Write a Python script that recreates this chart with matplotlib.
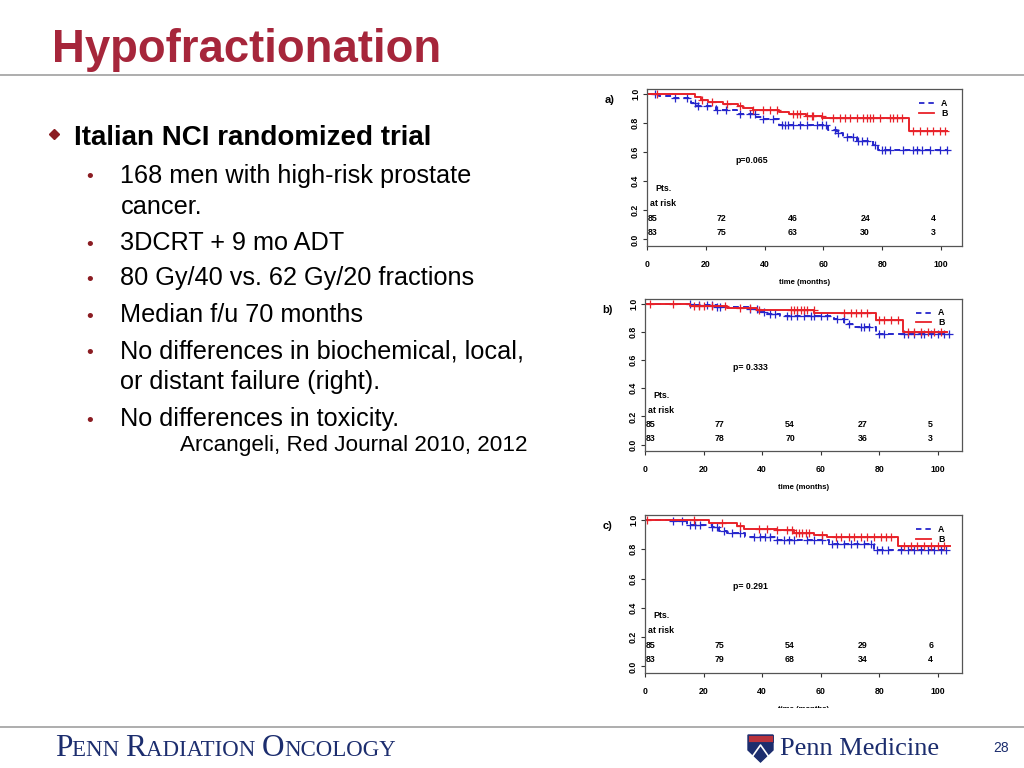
import numpy as np
import matplotlib

matplotlib.use("Agg")
import matplotlib.pyplot as plt
from matplotlib.patches import Polygon, Rectangle
from matplotlib.transforms import Bbox
from matplotlib.offsetbox import TextArea, HPacker, AnnotationBbox

# ---- panel a) ----
a_A_times = [0, 4, 9, 15, 17, 23.5, 30.5, 37, 39, 45, 61.5, 64.5, 66.5, 71.5, 77, 78.5]
a_A_surv = [1.0, 0.988, 0.97, 0.935, 0.92, 0.89, 0.86, 0.84, 0.825, 0.785, 0.755, 0.73, 0.705, 0.675, 0.65, 0.612]
a_A_end = 102.5
a_A_cens = [2.7, 9.5, 13.5, 16.3, 17.5, 20.3, 23.7, 27, 31.6, 35, 36.7, 39.6, 43, 45.8, 46.9, 48, 49.8,
            52, 54.3, 57.7, 59.4, 61, 64, 65, 68, 70.2, 71.9, 73, 74.7, 77.5, 79.8, 81, 82.7,
            87.2, 90.6, 91.7, 93.4, 96.3, 99.7, 102]
a_B_times = [0, 16.2, 18.4, 20.6, 25.7, 30.8, 32.5, 35.9, 44.9, 48.3, 54, 59.6, 89]
a_B_surv = [1.0, 0.977, 0.96, 0.945, 0.93, 0.918, 0.9, 0.888, 0.874, 0.862, 0.85, 0.834, 0.745]
a_B_end = 102
a_B_cens = [3.3, 18.6, 22, 27.1, 31.6, 36.2, 39.6, 41.8, 44.1, 49.8, 50.9, 52, 54.3, 56, 56.6, 59.4,
            63.4, 65.6, 67.3, 69, 71.3, 73.6, 74.7, 75.8, 77, 79.3, 82.6, 83.8, 84.9, 86.6,
            90.6, 92.9, 95.1, 97.4, 99.7, 101.4]
a_risk_A = [85, 72, 46, 24, 4]
a_risk_B = [83, 75, 63, 30, 3]
a_p = "p=0.065"

# ---- panel b) ----
b_A_times = [0, 15.5, 24.5, 36, 38.5, 41, 46, 64.5, 68, 71.4, 78.8]
b_A_surv = [1.0, 0.99, 0.975, 0.96, 0.945, 0.93, 0.91, 0.89, 0.86, 0.835, 0.785]
b_A_end = 104
b_A_cens = [15.4, 18.3, 21.1, 22.8, 24.5, 25.7, 36, 38.2, 40.5, 42.8, 44.5, 48.5, 49.7, 51.9, 54.2,
            56.5, 57.6, 60, 62.2, 65.6, 67.9, 69.6, 73.6, 74.8, 76.5, 79.9, 81.6, 88.5, 89.6,
            91.9, 94.2, 95.3, 97.6, 99.9, 102.2, 103.9]
b_B_times = [0, 15.4, 27.9, 38.2, 57.7, 78.8, 87.9]
b_B_surv = [1.0, 0.983, 0.967, 0.953, 0.936, 0.884, 0.80]
b_B_end = 103
b_B_cens = [1.7, 9.7, 16.6, 18.3, 20, 22.8, 27.4, 32.5, 36, 38.8, 49.7, 50.8, 52, 53.1, 54.2, 55.4,
            57.6, 67.9, 70.2, 71.9, 73.6, 75.9, 79.9, 81.6, 83.9, 86.2, 89.6, 91.9, 94.2, 96.5,
            98.7, 101]
b_risk_A = [85, 77, 54, 27, 5]
b_risk_B = [83, 78, 70, 36, 3]
b_p = "p= 0.333"

# ---- panel c) ----
c_A_times = [0, 9.1, 14.3, 22.8, 25.1, 28, 34.2, 45.1, 62.8, 78.2]
c_A_surv = [1.0, 0.99, 0.968, 0.95, 0.928, 0.91, 0.882, 0.86, 0.836, 0.795]
c_A_end = 103
c_A_cens = [9.7, 12.6, 15.4, 17.1, 18.8, 22.8, 24.5, 26.8, 29.7, 32.5, 37.1, 39.4, 41.1, 42.8, 45.1,
            47.4, 49.1, 50.8, 55.4, 57.6, 60.5, 63.9, 65.6, 67.9, 70.2, 72.5, 74.8, 77, 79.3,
            81, 82.8, 87.3, 89.6, 91.9, 94.2, 96.5, 98.7, 101, 102.7]
c_B_times = [0, 21.7, 31.4, 33.7, 45.1, 50.8, 57.7, 62.2, 86.2]
c_B_surv = [1.0, 0.98, 0.957, 0.94, 0.929, 0.912, 0.896, 0.885, 0.824]
c_B_end = 104
c_B_cens = [0.6, 16.6, 26.3, 32.5, 38.8, 41.7, 45.1, 48.5, 50.2, 51.4, 52.5, 53.7, 54.8, 56, 60.5,
            65.1, 66.8, 69.6, 71.3, 73.6, 75.9, 78.2, 80.5, 82.2, 83.9, 88.5, 90.8, 93, 95.3,
            97.6, 99.9, 102.2]
c_risk_A = [85, 75, 54, 29, 6]
c_risk_B = [83, 79, 68, 34, 4]
c_p = "p= 0.291"

bullets = [
    ("168 men with high-risk prostate", True, 182.5),
    ("cancer.", False, 213.5),
    ("3DCRT + 9 mo ADT", True, 250),
    ("80 Gy/40 vs. 62 Gy/20 fractions", True, 285),
    ("Median f/u 70 months", True, 321.5),
    ("No differences in biochemical, local,", True, 358),
    ("or distant failure (right).", False, 389.5),
    ("No differences in toxicity.", True, 426),
]

BLUE = "#2626cc"
RED = "#e8222a"
TITLE_RED = "#a6263b"
NAVY = "#1c2d6e"
SANS = "Liberation Sans"
SERIF = "Liberation Serif"
W, H = 1024, 768
FS = 6.3


def surv_at(times, surv, t):
    idx = np.searchsorted(times, t, side="right") - 1
    return np.asarray(surv)[idx]


def add_px_axes(fig, left, top, right, bottom):
    return fig.add_axes([left / W, 1 - bottom / H, (right - left) / W, (bottom - top) / H])


def draw_km(ax, times, surv, end, cens, color, ls):
    xs = np.r_[times, end]
    ys = np.r_[surv, surv[-1]]
    ax.step(xs, ys, where="post", color=color, lw=1.4, ls=ls)
    ax.plot(cens, surv_at(times, surv, cens), ls="none", marker="+", ms=5.5, mew=0.9, color=color)


def draw_panel(ax, label, A, B, p_text, risk_A, risk_B, zero_px, hundred_px, left_px, right_px):
    draw_km(ax, *A, BLUE, (0, (3, 2.2)))
    draw_km(ax, *B, RED, "-")

    xmax = (right_px - left_px) / (hundred_px - zero_px) * 100
    ax.set_xlim(0, xmax)
    ax.set_ylim(-0.045, 1.034)
    ax.set_xticks(range(0, 101, 20))
    ax.set_yticks(np.arange(0, 1.01, 0.2))
    ax.set_yticklabels([f"{v:.1f}" for v in np.arange(0, 1.01, 0.2)])
    ax.tick_params(labelsize=FS, length=3, width=0.8, direction="out", color="#333333")
    ax.tick_params(axis="x", pad=7)
    ax.tick_params(axis="y", pad=2)
    for lbl in ax.get_yticklabels():
        lbl.set_rotation(90)
        lbl.set_va("center")
        lbl.set_fontweight("bold")
    for lbl in ax.get_xticklabels():
        lbl.set_fontweight("bold")
    for side in ["top", "right", "left", "bottom"]:
        ax.spines[side].set_color("#555555")
        ax.spines[side].set_linewidth(0.9)
    ax.set_xlabel("time (months)", fontsize=5.6, fontweight="bold", labelpad=7)

    ax.text(-0.135, 0.93, label, transform=ax.transAxes, fontsize=8, fontweight="bold", va="center")
    ax.text(30, 0.545, p_text, fontsize=FS, fontweight="bold", va="center")
    ax.text(3, 0.35, "Pts.", fontsize=FS, fontweight="bold", va="center")
    ax.text(1, 0.245, "at risk", fontsize=FS, fontweight="bold", va="center")
    for x, ra, rb in zip([0.3, 25.5, 49.5, 74.2, 97.5], risk_A, risk_B):
        ha = "left" if x < 5 else "center"
        ax.text(x, 0.142, str(ra), fontsize=FS, fontweight="bold", ha=ha, va="center")
        ax.text(x, 0.045, str(rb), fontsize=FS, fontweight="bold", ha=ha, va="center")

    # legend, drawn by hand as in the original R figure
    ax.plot([92.5, 97.5], [0.935, 0.935], color=BLUE, lw=1.3, ls=(0, (3, 2.2)))
    ax.plot([92.5, 97.5], [0.868, 0.868], color=RED, lw=1.3)
    ax.text(100, 0.935, "A", fontsize=FS, fontweight="bold", va="center")
    ax.text(100, 0.868, "B", fontsize=FS, fontweight="bold", va="center")


def small_caps(parts, big, small, color):
    boxes = []
    for text, is_big in parts:
        boxes.append(TextArea(text, textprops=dict(fontsize=big if is_big else small,
                                                    family=SERIF, color=color)))
    return HPacker(children=boxes, align="baseline", pad=0, sep=0)


def main():
    plt.rcParams["font.family"] = [SANS, "DejaVu Sans"]
    fig = plt.figure(figsize=(W / 100, H / 100), dpi=100)
    fig.patch.set_facecolor("white")

    slide = fig.add_axes([0, 0, 1, 1], zorder=-1)
    slide.set_xlim(0, W)
    slide.set_ylim(H, 0)
    slide.axis("off")

    slide.text(52, 62, "Hypofractionation", fontsize=32.8, fontweight="bold",
               color=TITLE_RED, va="baseline")
    slide.plot([0, W], [75, 75], color="#a0a0a0", lw=1.2)
    slide.plot([0, W], [727, 727], color="#a0a0a0", lw=1.2)

    slide.plot(53.5, 134, marker="D", ms=5, color="#8b1c22")
    slide.text(74.5, 145, "Italian NCI randomized trial", fontsize=20, fontweight="bold",
               color="black", va="baseline")
    for text, has_bullet, base in bullets:
        if has_bullet:
            slide.text(90, base, "\u2022", fontsize=14, color="#8b1c22", ha="center", va="baseline")
        slide.text(120.5, base, text, fontsize=18.2, color="black", va="baseline")
    slide.text(180, 451.5, "Arcangeli, Red Journal 2010, 2012", fontsize=16.2, color="black",
               va="baseline")

    # footer
    pack = small_caps([("P", True), ("ENN ", False), ("R", True), ("ADIATION ", False),
                       ("O", True), ("NCOLOGY", False)], 22.5, 16.5, NAVY)
    ab = AnnotationBbox(pack, (55, 749), xycoords="data", box_alignment=(0, 0.5),
                        frameon=False, pad=0)
    slide.add_artist(ab)
    slide.add_patch(Polygon([(748, 735), (773, 735), (773, 750), (760.5, 762), (748, 750)],
                            closed=True, facecolor=NAVY, edgecolor=NAVY))
    slide.add_patch(Rectangle((748, 735), 25, 7, facecolor="#b8323c", edgecolor=NAVY, lw=0.6))
    slide.plot([752, 760.5, 769], [757, 745, 757], color="white", lw=1.2)
    slide.text(780, 755, "Penn Medicine", fontsize=19, family=SERIF, color=NAVY, va="baseline")
    slide.text(1001, 752, "28", fontsize=10, color=NAVY, ha="center", va="baseline")

    ax_a = add_px_axes(fig, 647, 89, 962, 246)
    draw_panel(ax_a, "a)", (a_A_times, a_A_surv, a_A_end, a_A_cens),
               (a_B_times, a_B_surv, a_B_end, a_B_cens), a_p, a_risk_A, a_risk_B,
               647, 941, 647, 962)
    ax_b = add_px_axes(fig, 645, 299, 962, 451)
    draw_panel(ax_b, "b)", (b_A_times, b_A_surv, b_A_end, b_A_cens),
               (b_B_times, b_B_surv, b_B_end, b_B_cens), b_p, b_risk_A, b_risk_B,
               645, 938, 645, 962)
    ax_c = add_px_axes(fig, 645, 515, 962, 673)
    draw_panel(ax_c, "c)", (c_A_times, c_A_surv, c_A_end, c_A_cens),
               (c_B_times, c_B_surv, c_B_end, c_B_cens), c_p, c_risk_A, c_risk_B,
               645, 938, 645, 962)

    # the bottom picture is cut just under the top of its axis title
    ax_c.xaxis.label.set_clip_box(Bbox.from_extents(0, H - 708, W, H))
    ax_c.xaxis.label.set_clip_on(True)

    fig.savefig("out.png", dpi=100)
    plt.close(fig)


if __name__ == "__main__":
    main()
